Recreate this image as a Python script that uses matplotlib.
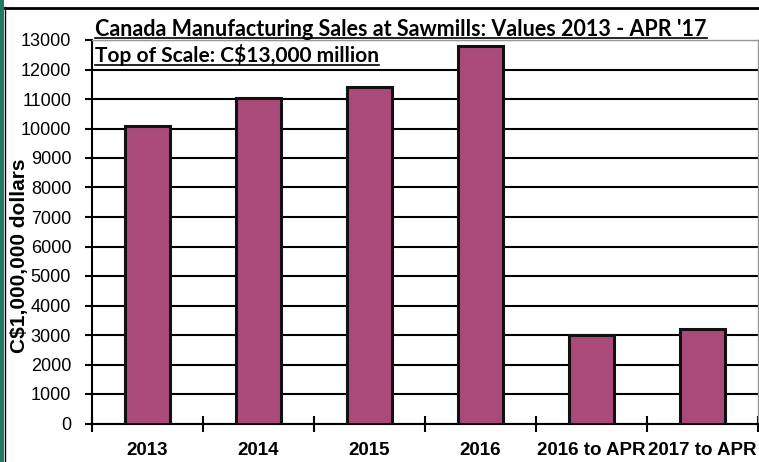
import matplotlib
matplotlib.use("Agg")
import matplotlib.pyplot as plt
from matplotlib.lines import Line2D
from matplotlib.patches import Rectangle

categories = ['2013', '2014', '2015', '2016', '2016 to APR', '2017 to APR']
sales = [10100, 11050, 11400, 12800, 3000, 3220]
yticks = list(range(0, 13001, 1000))

W, H = 759, 462
fig = plt.figure(figsize=(W / 100, H / 100), dpi=100)
fig.patch.set_facecolor('white')

def px(x, y):
    return x / W, 1 - y / H

# outer frame bits
fig.patches.append(Rectangle((0, 0), 4 / W, 1, transform=fig.transFigure,
                             facecolor='#237a63', edgecolor='none'))
fig.lines.append(Line2D([5 / W, 5 / W], [0, 1 - 7 / H], transform=fig.transFigure,
                        color='black', lw=1))
fig.lines.append(Line2D([5 / W, 1], [1 - 7.5 / H, 1 - 7.5 / H], transform=fig.transFigure,
                        color='black', lw=2))

l, b = px(92, 423.5)
r, t = px(758, 40)
ax = fig.add_axes([l, b, r - l, t - b])

x = list(range(len(categories)))
ax.bar(x, sales, width=0.4, color='#aa4a78', edgecolor='#111111', linewidth=2.2, zorder=3)

ax.set_xlim(-0.5, len(categories) - 0.5)
ax.set_ylim(0, 13000)
ax.set_yticks(yticks)
ax.set_yticklabels([str(v) for v in yticks], fontsize=13, family='Liberation Sans')
ax.yaxis.grid(True, color='black', lw=1.5, zorder=0)
ax.tick_params(axis='y', length=5, width=1.5, pad=10)

ax.set_xticks(x)
ax.set_xticklabels(categories, fontsize=13.5, fontweight='bold', family='Liberation Sans')
ax.set_xticks([i - 0.5 for i in range(len(categories) + 1)], minor=True)
ax.tick_params(axis='x', which='major', length=0, pad=13)
ax.tick_params(axis='x', which='minor', direction='inout', length=11, width=1.5)

for s in ['left', 'bottom']:
    ax.spines[s].set_color('black')
    ax.spines[s].set_linewidth(1.5)
for s in ['top', 'right']:
    ax.spines[s].set_color('#999999')
    ax.spines[s].set_linewidth(1)

fig.text(20 / W, 1 - 256 / H, 'C$1,000,000 dollars', rotation=90, ha='center', va='center',
         fontsize=15, fontweight='bold', family='Liberation Sans')

t1 = fig.text(95 / W, 1 - 36 / H, "Canada Manufacturing Sales at Sawmills: Values 2013 - APR '17",
              fontsize=15.5, fontweight='bold', family='Lato', va='baseline')
t2 = fig.text(95 / W, 1 - 62.5 / H, "Top of Scale: C$13,000 million",
              fontsize=15, fontweight='bold', family='Lato', va='baseline')

fig.canvas.draw()
rend = fig.canvas.get_renderer()
for txt, uy in [(t1, 37.5), (t2, 64.5)]:
    bb = txt.get_window_extent(rend)
    fig.lines.append(Line2D([bb.x0 / W, bb.x1 / W], [1 - uy / H, 1 - uy / H],
                            transform=fig.transFigure, color='black', lw=1.2))

fig.savefig('out.png', dpi=100)
